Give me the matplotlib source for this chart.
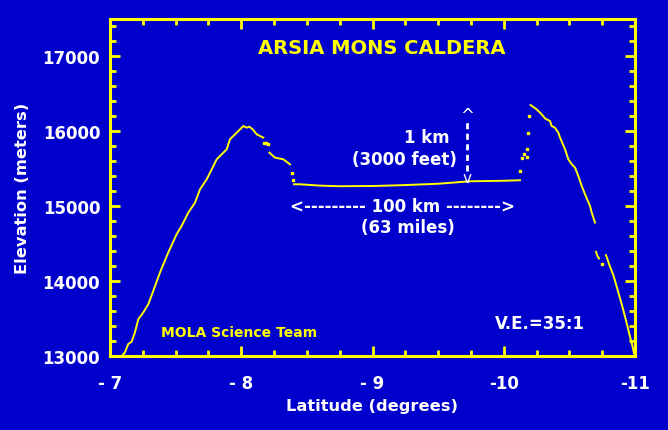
import numpy as np
import matplotlib.pyplot as plt
from matplotlib.ticker import MultipleLocator

plt.rcParams['font.family'] = ['DejaVu Sans']

BLUE = '#0000cc'
YELLOW = '#ffff00'

# profile pieces (latitude, elevation m)
west_lat = [-7.09, -7.114, -7.139, -7.165, -7.19, -7.216, -7.254, -7.292, -7.33, -7.381,
            -7.444, -7.508, -7.546, -7.597, -7.648, -7.686, -7.737, -7.775, -7.813, -7.851,
            -7.889, -7.914, -7.978, -8.016, -8.042, -8.061, -8.087, -8.118, -8.168]
west_elev = [13000, 13049, 13160, 13191, 13316, 13493, 13582, 13693, 13871, 14116,
             14382, 14627, 14738, 14916, 15049, 15227, 15360, 15493, 15627, 15693,
             15760, 15893, 16004, 16071, 16049, 16062, 16027, 15960, 15916]
rim_dot_lat = [-8.173, -8.19, -8.206]
rim_dot_elev = [15849, 15838, 15827]
rim_lat = [-8.214, -8.257, -8.32, -8.371]
rim_elev = [15716, 15649, 15627, 15560]
drop_lat = [-8.384, -8.392]
drop_elev = [15449, 15356]
floor_lat = [-8.402, -8.448, -8.6, -8.752, -9.0, -9.21, -9.5, -9.743, -10.0, -10.124]
floor_elev = [15293, 15293, 15275, 15267, 15270, 15280, 15300, 15333, 15340, 15347]
scatter_lat = [-10.124, -10.137, -10.154, -10.175, -10.175, -10.182, -10.195]
scatter_elev = [15471, 15649, 15693, 15760, 15658, 15978, 16200]
east_lat = [-10.205, -10.251, -10.289, -10.314, -10.352, -10.365, -10.39, -10.416,
            -10.429, -10.467, -10.492, -10.518, -10.543, -10.568, -10.594, -10.619,
            -10.657, -10.67, -10.695]
east_elev = [16351, 16293, 16227, 16173, 16138, 16071, 16049, 15982,
             15916, 15760, 15627, 15560, 15516, 15404, 15271, 15160,
             15004, 14916, 14782]
foot_lat = [-10.703, -10.715, -10.726]
foot_elev = [14391, 14330, 14302]
foot_dot_lat = [-10.746]
foot_dot_elev = [14222]
base_lat = [-10.779, -10.81, -10.835, -10.861, -10.886, -10.911, -10.937, -10.962,
            -10.982, -10.992]
base_elev = [14347, 14191, 14080, 13924, 13769, 13613, 13436, 13258, 13124, 13036]

x_ticks = [-7, -8, -9, -10, -11]
x_labels = ['- 7', '- 8', '- 9', '-10', '-11']
y_ticks = [13000, 14000, 15000, 16000, 17000]

fig = plt.figure(figsize=(6.68, 4.31), dpi=100, facecolor=BLUE)
ax = fig.add_axes([110 / 668, 74 / 431, 525 / 668, 337 / 431], facecolor=BLUE)

for la, el in [(west_lat, west_elev), (rim_lat, rim_elev), (floor_lat, floor_elev),
               (east_lat, east_elev), (foot_lat, foot_elev), (base_lat, base_elev)]:
    ax.plot(la, el, color=YELLOW, lw=1.4)
for la, el in [(rim_dot_lat, rim_dot_elev), (drop_lat, drop_elev),
               (scatter_lat, scatter_elev), (foot_dot_lat, foot_dot_elev)]:
    ax.plot(la, el, ls='none', marker='s', ms=1.6, color=YELLOW, mec=YELLOW)

ax.set_xlim(-7, -11)
ax.set_ylim(13000, 17500)
ax.set_xticks(x_ticks)
ax.set_xticklabels(x_labels)
ax.set_yticks(y_ticks)
ax.xaxis.set_minor_locator(MultipleLocator(0.25))
ax.yaxis.set_minor_locator(MultipleLocator(200))
ax.tick_params(which='both', direction='in', color=YELLOW, width=2,
               top=True, right=True, labelcolor='white', labelsize=12)
ax.tick_params(which='major', length=7)
ax.tick_params(axis='x', which='major', pad=13)
ax.tick_params(axis='y', which='major', pad=7)
ax.tick_params(which='minor', length=4)
for lbl in ax.get_xticklabels() + ax.get_yticklabels():
    lbl.set_fontweight('bold')
for s in ax.spines.values():
    s.set_color(YELLOW)
    s.set_linewidth(2.2)

ax.set_xlabel('Latitude (degrees)', color='white', fontsize=11.7, fontweight='bold', labelpad=4)
ax.set_ylabel('Elevation (meters)', color='white', fontsize=11.7, fontweight='bold', labelpad=9)

ax.text(-9.07, 17120, 'ARSIA MONS CALDERA', color=YELLOW, fontsize=14,
        fontweight='bold', ha='center', va='center')
ax.text(-9.59, 15920, '1 km', color='white', fontsize=12, fontweight='bold',
        ha='right', va='center')
ax.text(-9.644, 15627, '(3000 feet)', color='white', fontsize=12, fontweight='bold',
        ha='right', va='center')
ax.plot([-9.72, -9.72], [15470, 16160], color='white', lw=2, ls=(0, (2.2, 1.6)))
ax.text(-9.72, 16220, '^', color='white', fontsize=12, ha='center', va='center')
ax.text(-9.72, 15380, 'v', color='white', fontsize=11, ha='center', va='center')
ax.text(-9.225, 15000, '<--------- 100 km -------->', color='white', fontsize=12,
        fontweight='bold', ha='center', va='center')
ax.text(-9.27, 14720, '(63 miles)', color='white', fontsize=12, fontweight='bold',
        ha='center', va='center')
ax.text(-7.389, 13320, 'MOLA Science Team', color=YELLOW, fontsize=10,
        fontweight='bold', ha='left', va='center')
ax.text(-9.933, 13440, 'V.E.=35:1', color='white', fontsize=12, fontweight='bold',
        ha='left', va='center')

fig.savefig('out.png', dpi=100, facecolor=BLUE)
